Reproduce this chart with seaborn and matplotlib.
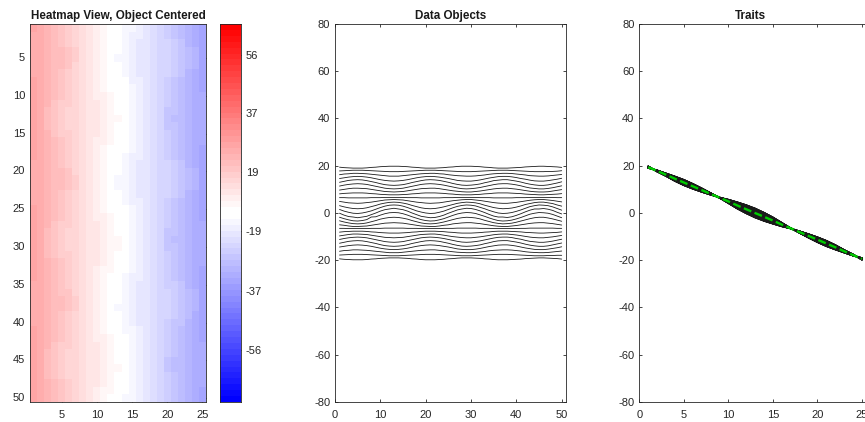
import numpy as np
import pandas as pd
import matplotlib
matplotlib.use("Agg")
import matplotlib.pyplot as plt
from matplotlib.colors import ListedColormap
import seaborn as sns

# Step 1: values (rows = data objects, columns = traits)
cell_values = [
    [19.4, 17.8, 16.2, 14.6, 13.0, 11.4, 9.7, 8.1, 6.5, 4.9, 3.1, 1.5, -0.1, -1.8, -3.3, -5.0, -6.5, -8.1, -9.7, -11.2, -12.8, -14.4, -16.2, -17.8, -19.4],
    [19.2, 17.9, 16.5, 14.9, 13.4, 11.8, 10.0, 8.3, 6.5, 4.6, 2.6, 0.8, -0.9, -2.4, -3.8, -5.2, -6.5, -7.9, -9.4, -10.8, -12.4, -14.1, -15.9, -17.7, -19.6],
    [19.1, 18.0, 16.6, 15.2, 13.8, 12.1, 10.3, 8.4, 6.4, 4.3, 2.2, 0.3, -1.5, -2.9, -4.2, -5.5, -6.6, -7.8, -9.1, -10.5, -12.0, -13.8, -15.8, -17.6, -19.7],
    [19.0, 18.1, 16.8, 15.4, 14.0, 12.3, 10.5, 8.5, 6.4, 4.2, 1.9, -0.1, -1.7, -3.3, -4.5, -5.7, -6.6, -7.7, -8.9, -10.3, -11.8, -13.6, -15.6, -17.5, -19.8],
    [19.0, 18.1, 16.8, 15.5, 14.1, 12.4, 10.5, 8.5, 6.4, 4.1, 1.8, -0.2, -2.0, -3.4, -4.6, -5.7, -6.6, -7.7, -8.9, -10.2, -11.7, -13.5, -15.6, -17.5, -19.8],
    [19.0, 18.1, 16.7, 15.4, 14.0, 12.3, 10.4, 8.5, 6.4, 4.2, 1.9, 0.0, -1.7, -3.2, -4.5, -5.6, -6.6, -7.7, -9.0, -10.3, -11.8, -13.6, -15.7, -17.5, -19.8],
    [19.1, 18.0, 16.6, 15.2, 13.7, 12.1, 10.3, 8.4, 6.4, 4.4, 2.2, 0.4, -1.4, -2.8, -4.2, -5.5, -6.6, -7.8, -9.1, -10.5, -12.1, -13.8, -15.8, -17.6, -19.7],
    [19.3, 17.9, 16.4, 14.9, 13.3, 11.7, 10.0, 8.2, 6.5, 4.6, 2.7, 0.9, -0.7, -1.7, -3.7, -5.2, -6.5, -8.0, -9.4, -10.9, -12.5, -14.1, -16.0, -17.7, -19.5],
    [19.4, 17.8, 16.2, 14.5, 12.9, 11.3, 9.7, 8.1, 6.5, 4.9, 3.2, 1.6, 0.0, -1.6, -3.2, -4.9, -6.5, -8.1, -9.7, -11.3, -12.9, -14.5, -16.2, -17.8, -19.4],
    [19.6, 17.7, 16.0, 14.1, 12.4, 10.9, 9.4, 7.9, 6.5, 5.2, 3.8, 2.3, 0.8, -0.9, -2.6, -4.6, -6.5, -8.3, -10.0, -11.7, -13.4, -14.9, -16.4, -17.9, -19.2],
    [19.7, 17.6, 15.8, 13.8, 12.0, 10.5, 9.1, 7.8, 6.6, 5.5, 4.2, 2.9, 1.4, -0.3, -2.2, -4.3, -6.4, -8.4, -10.3, -12.1, -13.8, -15.2, -16.6, -18.0, -19.1],
    [19.8, 17.5, 15.6, 13.6, 11.8, 10.3, 9.0, 7.7, 6.6, 5.6, 4.5, 3.3, 1.7, 0.1, -1.9, -4.2, -6.4, -8.5, -10.4, -12.3, -14.0, -15.4, -16.8, -18.1, -19.0],
    [19.8, 17.5, 15.6, 13.5, 11.7, 10.2, 8.9, 7.7, 6.6, 5.7, 4.6, 3.4, 2.0, 0.2, -1.8, -4.1, -6.4, -8.5, -10.5, -12.4, -14.1, -15.5, -16.8, -18.1, -19.0],
    [19.8, 17.5, 15.6, 13.6, 11.8, 10.3, 9.0, 7.7, 6.6, 5.6, 4.5, 3.3, 1.7, 0.1, -1.9, -4.2, -6.4, -8.5, -10.4, -12.3, -14.0, -15.4, -16.8, -18.1, -19.0],
    [19.7, 17.6, 15.8, 13.8, 12.0, 10.5, 9.1, 7.8, 6.6, 5.5, 4.2, 2.9, 1.4, -0.3, -2.2, -4.3, -6.4, -8.4, -10.3, -12.1, -13.8, -15.2, -16.6, -18.0, -19.1],
    [19.6, 17.7, 16.0, 14.1, 12.4, 10.9, 9.4, 7.9, 6.5, 5.2, 3.8, 2.3, 0.8, -0.9, -2.6, -4.6, -6.5, -8.3, -10.0, -11.7, -13.4, -14.9, -16.4, -17.9, -19.2],
    [19.4, 17.8, 16.2, 14.5, 12.9, 11.3, 9.7, 8.1, 6.5, 4.9, 3.2, 1.6, 0.0, -1.6, -3.2, -4.9, -6.5, -8.1, -9.7, -11.3, -12.9, -14.5, -16.2, -17.8, -19.4],
    [19.3, 17.9, 16.4, 14.9, 13.3, 11.7, 10.0, 8.2, 6.5, 4.6, 2.7, 0.9, -0.7, -2.2, -3.7, -5.2, -6.5, -8.0, -9.4, -10.9, -12.5, -14.1, -16.0, -17.7, -19.5],
    [19.1, 18.0, 16.6, 15.2, 13.7, 12.1, 10.3, 8.4, 6.4, 4.4, 2.2, 0.4, -1.4, -2.8, -4.2, -5.5, -6.6, -7.8, -9.1, -10.5, -12.1, -13.8, -15.8, -17.6, -19.7],
    [19.0, 18.1, 16.7, 15.4, 14.0, 12.3, 10.4, 8.5, 6.4, 4.2, 1.9, 0.0, -1.7, -3.2, -4.5, -5.6, -6.6, -7.7, -9.0, -10.3, -11.8, -13.6, -15.7, -17.5, -19.8],
    [19.0, 18.1, 16.8, 15.5, 14.1, 12.4, 10.5, 8.5, 6.4, 4.1, 1.8, -0.2, -2.0, -3.4, -4.6, -5.7, -6.6, -7.7, -8.9, -10.2, -11.7, -13.5, -15.6, -17.5, -19.8],
    [19.0, 18.1, 16.8, 15.4, 14.0, 12.3, 10.5, 8.5, 6.4, 4.2, 1.9, -0.1, -1.9, -3.3, -4.5, -5.7, -6.6, -7.7, -8.9, -10.3, -11.8, -13.6, -15.6, -17.5, -19.8],
    [19.1, 18.0, 16.6, 15.2, 13.8, 12.1, 10.3, 8.4, 6.4, 4.3, 2.2, 0.3, -1.5, -2.9, -4.2, -5.5, -6.6, -7.8, -9.1, -10.5, -12.0, -13.8, -15.8, -17.6, -19.7],
    [19.2, 17.9, 16.5, 14.9, 13.4, 11.8, 10.0, 8.3, 6.5, 4.6, 2.6, 0.8, -0.9, -2.4, -3.8, -5.2, -6.5, -7.9, -9.4, -10.8, -12.4, -14.1, -15.9, -17.7, -19.6],
    [19.4, 17.8, 16.2, 14.6, 13.0, 11.4, 9.7, 8.1, 6.5, 4.9, 3.1, 1.5, -0.1, -1.7, -3.3, -5.0, -6.5, -8.1, -9.7, -11.2, -12.8, -14.4, -16.2, -17.8, -19.4],
    [19.5, 17.7, 16.0, 14.2, 12.5, 11.0, 9.4, 8.0, 6.5, 5.2, 3.6, 2.2, 0.6, -1.0, -2.8, -4.6, -6.5, -8.2, -10.0, -11.6, -13.3, -14.8, -16.4, -17.9, -19.3],
    [19.7, 17.6, 15.8, 13.8, 12.1, 10.6, 9.2, 7.8, 6.6, 5.4, 4.1, 2.8, 1.3, -0.4, -2.3, -4.4, -6.4, -8.4, -10.2, -12.0, -13.7, -15.2, -16.6, -18.0, -19.1],
    [19.8, 17.5, 15.7, 13.6, 11.8, 10.3, 9.0, 7.7, 6.6, 5.6, 4.4, 3.2, 1.7, 0.0, -2.0, -4.2, -6.4, -8.5, -10.4, -12.3, -14.0, -15.4, -16.7, -18.1, -19.0],
    [19.8, 17.5, 15.6, 13.5, 11.7, 10.2, 8.9, 7.7, 6.6, 5.7, 4.6, 3.4, 2.0, 0.2, -1.8, -4.1, -6.4, -8.5, -10.5, -12.4, -14.1, -15.5, -16.8, -18.1, -19.0],
    [19.8, 17.5, 15.6, 13.5, 11.8, 10.3, 8.9, 7.7, 6.6, 5.7, 4.5, 3.3, 1.9, 0.1, -1.9, -4.1, -6.4, -8.5, -10.5, -12.3, -14.0, -15.5, -16.8, -18.1, -19.0],
    [19.7, 17.6, 15.7, 13.7, 12.0, 10.5, 9.1, 7.8, 6.6, 5.5, 4.3, 3.0, 1.5, -0.2, -2.1, -4.3, -6.4, -8.4, -10.3, -12.1, -13.8, -15.3, -16.7, -18.0, -19.1],
    [19.6, 17.7, 15.9, 14.0, 12.3, 10.8, 9.3, 7.9, 6.5, 5.3, 3.9, 2.4, 0.9, -0.8, -2.5, -4.5, -6.5, -8.3, -10.1, -11.8, -13.5, -15.0, -16.5, -17.9, -19.2],
    [19.4, 17.8, 16.1, 14.4, 12.8, 11.2, 9.6, 8.1, 6.5, 5.0, 3.3, 1.8, 0.2, -1.4, -3.1, -4.8, -6.5, -8.1, -9.8, -11.4, -13.0, -14.6, -16.3, -17.8, -19.4],
    [19.3, 17.9, 16.4, 14.8, 13.2, 11.6, 9.9, 8.2, 6.5, 4.7, 2.8, 1.1, -0.6, -2.1, -3.6, -5.1, -6.5, -8.0, -9.5, -11.0, -12.6, -14.2, -16.0, -17.7, -19.5],
    [19.1, 18.0, 16.6, 15.1, 13.7, 12.0, 10.2, 8.4, 6.4, 4.4, 2.3, 0.5, -1.3, -2.7, -4.1, -5.4, -6.6, -7.8, -9.2, -10.6, -12.1, -13.9, -15.8, -17.6, -19.7],
    [19.0, 18.1, 16.7, 15.4, 13.9, 12.3, 10.4, 8.5, 6.4, 4.2, 2.0, 0.0, -1.7, -3.2, -4.4, -5.6, -6.6, -7.7, -9.0, -10.3, -11.8, -13.6, -15.7, -17.5, -19.8],
    [19.0, 18.1, 16.8, 15.5, 14.1, 12.4, 10.5, 8.5, 6.4, 4.1, 1.8, -0.2, -1.7, -3.4, -4.6, -5.7, -6.6, -7.7, -8.9, -10.2, -11.7, -13.5, -15.6, -17.5, -19.8],
    [19.0, 18.1, 16.8, 15.5, 14.1, 12.4, 10.5, 8.5, 6.4, 4.1, 1.9, -0.1, -1.9, -3.3, -4.5, -5.7, -6.6, -7.7, -8.9, -10.2, -11.7, -13.5, -15.6, -17.5, -19.8],
    [19.1, 18.0, 16.7, 15.3, 13.8, 12.2, 10.3, 8.4, 6.4, 4.3, 2.1, 0.2, -1.6, -3.0, -4.3, -5.5, -6.6, -7.8, -9.1, -10.4, -12.0, -13.7, -15.7, -17.6, -19.7],
    [19.2, 17.9, 16.5, 15.0, 13.5, 11.9, 10.1, 8.3, 6.5, 4.5, 2.5, 0.7, -1.0, -2.5, -3.9, -5.3, -6.6, -7.9, -9.3, -10.8, -12.3, -14.0, -15.9, -17.7, -19.6],
    [19.3, 17.8, 16.3, 14.6, 13.1, 11.5, 9.8, 8.2, 6.5, 4.8, 3.0, 1.3, -0.3, -1.9, -3.4, -5.0, -6.5, -8.0, -9.6, -11.1, -12.7, -14.4, -16.1, -17.8, -19.5],
    [19.5, 17.7, 16.1, 14.3, 12.6, 11.0, 9.5, 8.0, 6.5, 5.1, 3.6, 2.0, 0.5, -1.2, -2.9, -4.7, -6.5, -8.2, -9.9, -11.6, -13.2, -14.8, -16.4, -17.9, -19.3],
    [19.6, 17.6, 15.8, 13.9, 12.2, 10.6, 9.2, 7.9, 6.6, 5.4, 4.0, 2.7, 1.2, -0.5, -2.4, -4.4, -6.4, -8.3, -10.2, -12.0, -13.6, -15.1, -16.6, -18.0, -19.2],
    [19.7, 17.5, 15.7, 13.6, 11.9, 10.4, 9.0, 7.8, 6.6, 5.6, 4.4, 3.1, 1.7, -0.1, -2.0, -4.2, -6.4, -8.4, -10.4, -12.2, -13.9, -15.4, -16.7, -18.1, -19.1],
    [19.8, 17.5, 15.6, 13.5, 11.7, 10.2, 8.9, 7.7, 6.6, 5.7, 4.6, 3.4, 1.7, 0.2, -1.8, -4.1, -6.4, -8.5, -10.5, -12.4, -14.1, -15.5, -16.8, -18.1, -19.0],
    [19.8, 17.5, 15.6, 13.5, 11.7, 10.2, 8.9, 7.7, 6.6, 5.7, 4.6, 3.3, 1.9, 0.1, -1.8, -4.1, -6.4, -8.5, -10.5, -12.4, -14.1, -15.5, -16.8, -18.1, -19.0],
    [19.7, 17.6, 15.7, 13.7, 11.9, 10.4, 9.0, 7.8, 6.6, 5.5, 4.3, 3.1, 1.6, -0.1, -2.1, -4.3, -6.4, -8.4, -10.3, -12.2, -13.9, -15.3, -16.7, -18.0, -19.1],
    [19.6, 17.6, 15.9, 14.0, 12.3, 10.7, 9.3, 7.9, 6.6, 5.3, 4.0, 2.6, 1.1, -0.6, -2.5, -4.5, -6.4, -8.3, -10.1, -11.9, -13.5, -15.0, -16.5, -18.0, -19.2],
    [19.5, 17.7, 16.1, 14.3, 12.7, 11.1, 9.6, 8.0, 6.5, 5.0, 3.4, 1.9, 0.3, -1.3, -3.0, -4.8, -6.5, -8.2, -9.8, -11.5, -13.1, -14.7, -16.3, -17.9, -19.3],
    [19.3, 17.9, 16.3, 14.7, 13.2, 11.5, 9.9, 8.2, 6.5, 4.7, 2.9, 1.2, -0.4, -2.0, -3.5, -5.1, -6.5, -8.0, -9.5, -11.1, -12.7, -14.3, -16.1, -17.9, -19.5],
]
heat_yticks = [5, 10, 15, 20, 25, 30, 35, 40, 45, 50]
heat_xticks = [5, 10, 15, 20, 25]
cbar_labels = ["56", "37", "19", "-19", "-37", "-56"]
line_yticks = [-80, -60, -40, -20, 0, 20, 40, 60, 80]
objects_xticks = [0, 10, 20, 30, 40, 50]
traits_xticks = [0, 5, 10, 15, 20, 25]

W, H = 865, 422
VMAX = 56
N_LEVELS = 64
DARK = (0.15, 0.15, 0.15)
GREEN = (0, 0.8, 0)

sns.set_theme(style="white")
plt.rcParams["font.family"] = ["Liberation Sans", "DejaVu Sans"]
plt.rcParams["font.size"] = 8
plt.rcParams["axes.unicode_minus"] = False

matrix = pd.DataFrame(cell_values,
                      index=range(1, len(cell_values) + 1),
                      columns=range(1, len(cell_values[0]) + 1))
long_data = matrix.rename_axis(index="obj", columns="trait").stack().rename("value").reset_index()

# red - white - blue map, two white levels in the middle
half = np.linspace(0, 1, N_LEVELS // 2)
colors = [(s, s, 1.0) for s in half] + [(1.0, 1 - s, 1 - s) for s in half]
cmap = ListedColormap(colors)


def px_axes(left, right, top, bottom):
    return fig.add_axes([left / W, 1 - bottom / H, (right - left) / W, (bottom - top) / H])


def style_axes(ax):
    for side in ax.spines:
        ax.spines[side].set_visible(True)
        ax.spines[side].set_linewidth(0.6)
        ax.spines[side].set_color(DARK)
    ax.tick_params(axis="both", which="major", direction="in", length=2.5, width=0.6,
                   top=True, right=True, bottom=True, left=True, colors=DARK,
                   labelsize=8)
    ax.tick_params(axis="x", pad=6)
    ax.tick_params(axis="y", pad=3.5)


fig = plt.figure(figsize=(W / 100, H / 100), dpi=100)

# 1. Heatmap
ax1 = px_axes(30, 206, 24, 402)
sns.heatmap(matrix, ax=ax1, cmap=cmap, vmin=-VMAX, vmax=VMAX, cbar=False)
ax1.set_xticks([t - 0.5 for t in heat_xticks], [str(t) for t in heat_xticks], rotation=0)
ax1.set_yticks([t - 0.5 for t in heat_yticks], [str(t) for t in heat_yticks], rotation=0)
ax1.set_xlabel("")
ax1.set_ylabel("")
style_axes(ax1)
ax1.set_title("Heatmap View, Object Centered", fontsize=8.35, fontweight="bold", color="k", pad=3.5)

# Colorbar, the tick labels are not linear in the bar position
cax = px_axes(220, 241, 24, 402)
bar_levels = pd.DataFrame(np.linspace(VMAX, -VMAX, N_LEVELS).reshape(-1, 1))
sns.heatmap(bar_levels, ax=cax, cmap=cmap, vmin=-VMAX, vmax=VMAX, cbar=False,
            xticklabels=False, yticklabels=False)
style_axes(cax)
cax.tick_params(left=False, top=False, bottom=False, right=True, labelleft=False, labelright=True)
cax.set_yticks([5.25, 15.07, 25.06, 35.05, 45.2, 55.2], cbar_labels, rotation=0)
cax.set_xticks([])

# 2. Data objects, one curve per trait
ax2 = px_axes(335, 566, 24, 402)
sns.lineplot(data=long_data, x="obj", y="value", units="trait", estimator=None,
             color="k", linewidth=0.6, ax=ax2, legend=False)
ax2.set_xlim(0, 50.95)
ax2.set_ylim(-80, 80)
ax2.set_xticks(objects_xticks)
ax2.set_yticks(line_yticks)
ax2.set_xlabel("")
ax2.set_ylabel("")
style_axes(ax2)
ax2.set_title("Data Objects", fontsize=8.35, fontweight="bold", color="k", pad=3.5)

# 3. Traits, one curve per object with the mean on top, right edge runs off the image
ax3 = px_axes(639.3, 870, 24, 402)
mean_curve = matrix.mean(axis=0)
sns.lineplot(x=mean_curve.index, y=mean_curve.values, color=GREEN, linewidth=1.7, ax=ax3, legend=False)
sns.lineplot(data=long_data, x="trait", y="value", units="obj", estimator=None,
             color="k", linewidth=0.9, ax=ax3, legend=False)
sns.lineplot(x=mean_curve.index, y=mean_curve.values, color=GREEN, linewidth=1.7,
             linestyle=(0, (3.4, 1.5)), ax=ax3, legend=False)
ax3.set_xlim(0, 25.9)
ax3.set_ylim(-80, 80)
ax3.set_xticks(traits_xticks)
ax3.set_yticks(line_yticks)
ax3.set_xlabel("")
ax3.set_ylabel("")
style_axes(ax3)
ax3.set_title("Traits", fontsize=8.35, fontweight="bold", color="k", pad=3.5, x=0.482)

fig.savefig("out.png", dpi=100)
